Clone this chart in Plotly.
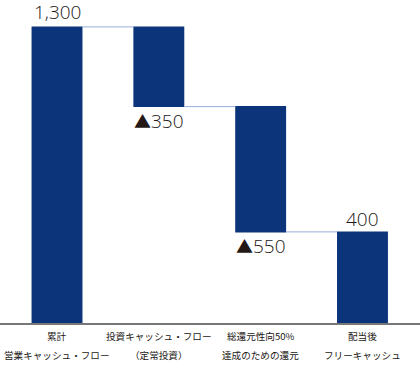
import plotly.graph_objects as go

# --- data ---
categories = ["累計営業キャッシュ・フロー", "投資キャッシュ・フロー（定常投資）",
              "総還元性向50%達成のための還元", "配当後フリーキャッシュ"]
cat_line1 = ["累計", "投資キャッシュ・フロー", "総還元性向50%", "配当後"]
cat_line2 = ["営業キャッシュ・フロー", "（定常投資）", "達成のための還元", "フリーキャッシュ"]
values = [1300, -350, -550, 0]
measures = ["absolute", "relative", "relative", "total"]

NAVY = "#0b347b"
TEXT = "#231815"
TRI = '<span style="font-family:Noto Sans CJK JP;font-size:17px">▲</span>'

fig = go.Figure()
fig.add_trace(go.Waterfall(
    x=categories, y=values, measure=measures,
    increasing=dict(marker=dict(color=NAVY)),
    decreasing=dict(marker=dict(color=NAVY)),
    totals=dict(marker=dict(color=NAVY)),
    connector=dict(line=dict(color="#9aaedb", width=1)),
    hoverinfo="skip", showlegend=False,
))

# value labels computed from the running total
annotations = []
level = 0
for cat, v, m in zip(categories, values, measures):
    if m == "absolute":
        level = v
        txt, y, anchor, shift = f"{v:,}", level, "bottom", 0
    elif m == "relative":
        level += v
        if v < 0:
            txt, y, anchor, shift = f"{TRI}{abs(v):,}", level, "top", 1
        else:
            txt, y, anchor, shift = f"{v:,}", level, "bottom", 0
    else:
        txt, y, anchor, shift = f"{level:,}", level, "bottom", -2
    annotations.append(dict(x=cat, y=y, xref="x", yref="y", text=txt,
                            showarrow=False, yanchor=anchor, yshift=shift,
                            font=dict(family="Open Sans, Noto Sans, sans-serif", size=19,
                                      weight=300, color=TEXT)))

for cat, l1, l2 in zip(categories, cat_line1, cat_line2):
    annotations.append(dict(x=cat, y=0, xref="x", yref="paper", text=l1, showarrow=False,
                            yanchor="middle", yshift=-13,
                            font=dict(family="Noto Sans CJK JP", size=9.6, color=TEXT)))
    annotations.append(dict(x=cat, y=0, xref="x", yref="paper", text=l2, showarrow=False,
                            yanchor="middle", yshift=-32,
                            font=dict(family="Noto Sans CJK JP", size=9.6, color=TEXT)))

fig.update_layout(
    width=420, height=366,
    margin=dict(l=0, r=0, t=0, b=43),
    paper_bgcolor="white", plot_bgcolor="white",
    waterfallgap=0.5,
    annotations=annotations,
    xaxis=dict(range=[-0.56, 3.565], showticklabels=False, showgrid=False,
               showline=True, linecolor="#777777", linewidth=1.5, ticks="", zeroline=False),
    yaxis=dict(range=[0, 1418], visible=False, showgrid=False, zeroline=False),
)

fig.write_html("out.html", config={"displayModeBar": False},
               post_script="document.body.style.margin='0';document.body.style.padding='0';document.body.style.overflow='hidden';")
